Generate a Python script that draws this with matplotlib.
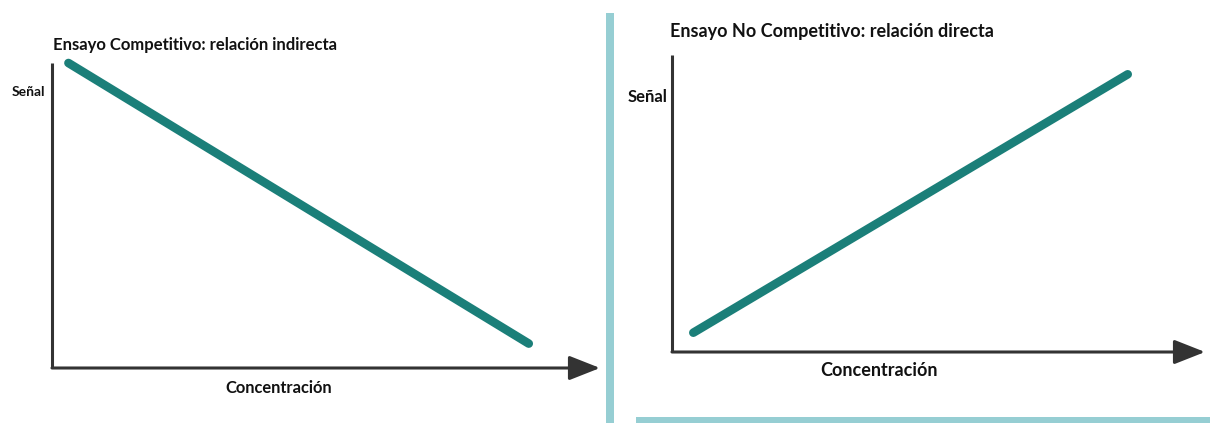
import matplotlib
matplotlib.use("Agg")
import matplotlib.pyplot as plt
from matplotlib.patches import FancyArrowPatch, Rectangle

# ---- data ----
comp_conc = [0.03, 0.87]
comp_signal = [1.0, 0.08]
noncomp_conc = [0.04, 0.855]
noncomp_signal = [0.065, 0.935]

titles = ["Ensayo Competitivo: relación indirecta",
          "Ensayo No Competitivo: relación directa"]
ylabel = "Señal"
xlabel = "Concentración"

LINE = "#1B7F79"
AXC = "#333333"
DIV = "#96CED3"
FONT = ["Lato", "DejaVu Sans"]

W, H = 1210, 423
fig = plt.figure(figsize=(W / 100, H / 100), dpi=100)
fig.patch.set_facecolor("white")


def px_axes(x0, x1, ytop, ybot):
    return fig.add_axes([x0 / W, (H - ybot) / H, (x1 - x0) / W, (ybot - ytop) / H])


def setup(ax, x, y):
    ax.set_xlim(0, 1)
    ax.set_ylim(0, 1)
    for s in ax.spines.values():
        s.set_visible(False)
    ax.set_xticks([])
    ax.set_yticks([])
    ax.patch.set_alpha(0)
    ax.plot(x, y, color=LINE, lw=6.2, solid_capstyle="round", clip_on=False)
    # y axis line
    ax.plot([0, 0], [0, 1], color=AXC, lw=2.2, clip_on=False, solid_capstyle="butt")
    # x axis arrow
    arr = FancyArrowPatch((0, 0), (1, 0), transform=ax.transAxes,
                          arrowstyle="-|>,head_length=1.9,head_width=0.75",
                          mutation_scale=10, color=AXC, lw=2.2, clip_on=False,
                          shrinkA=0, shrinkB=0)
    ax.add_patch(arr)


axL = px_axes(52, 600, 63, 368)
setup(axL, comp_conc, comp_signal)
axR = px_axes(672, 1205, 55, 352)
setup(axR, noncomp_conc, noncomp_signal)

tkw = dict(family=FONT, weight="bold", color="#111111")
fig.text(53 / W, 1 - 45 / H, titles[0], ha="left", va="center", fontsize=12, **tkw)
fig.text(670 / W, 1 - 31 / H, titles[1], ha="left", va="center", fontsize=13, **tkw)
fig.text(28 / W, 1 - 92 / H, ylabel, ha="center", va="center", fontsize=10, **tkw)
fig.text(647.5 / W, 1 - 97 / H, ylabel, ha="center", va="center", fontsize=12, **tkw)
fig.text(279 / W, 1 - 388 / H, xlabel, ha="center", va="center", fontsize=11.9, **tkw)
fig.text(879 / W, 1 - 370 / H, xlabel, ha="center", va="center", fontsize=13, **tkw)

# decorative dividers
fig.add_artist(Rectangle((606 / W, 0), 8 / W, 1 - 13 / H, transform=fig.transFigure,
                         color=DIV, lw=0))
fig.add_artist(Rectangle((636 / W, 0), (W - 636) / W, 6 / H, transform=fig.transFigure,
                         color=DIV, lw=0))

fig.savefig("out.png", dpi=100, facecolor="white")
